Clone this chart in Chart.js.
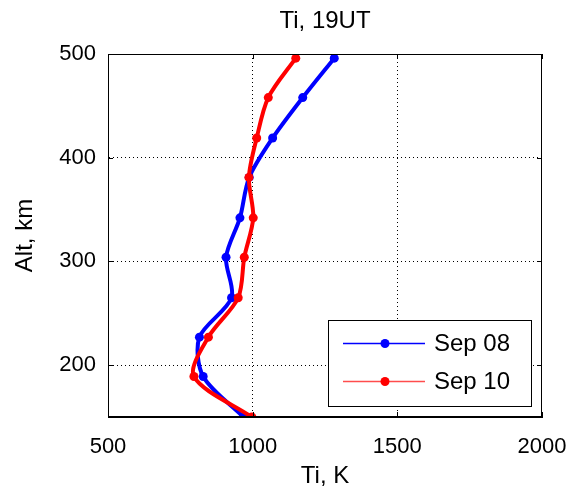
<!DOCTYPE html>
<html>
<head>
<meta charset="utf-8">
<script src="https://cdn.jsdelivr.net/npm/chart.js@4"></script>
<style>
    html, body { margin: 0; padding: 0; background: #fff; }
    #wrap { width: 576px; height: 492px; }
</style>
</head>
<body>
<div id="wrap"><canvas id="myChart" width="576" height="492"></canvas></div>
<script>
// altitude levels, km
const altitudes = [150, 189, 227, 265, 304, 342, 381, 419, 458, 496];
// ion temperature, K
const tiSep08 = [968, 829, 816, 927, 908, 956, 988, 1069, 1173, 1282];
const tiSep10 = [997, 797, 847, 950, 971, 1002, 987, 1014, 1054, 1149];
const xTicks = [500, 1000, 1500, 2000];
const yTicks = [200, 300, 400, 500];
const labels = ['Sep 08', 'Sep 10'];

const FONT = '"Liberation Sans", Arial, Helvetica, sans-serif';

function toPoints(temps) {
    return temps.map((t, i) => ({x: t, y: altitudes[i]}));
}

function edgeColor(ctx) {
    const s = ctx.scale;
    if (ctx.tick && (ctx.tick.value === s.min || ctx.tick.value === s.max)) return 'rgba(0,0,0,0)';
    return '#000';
}

// frame, inward tick marks, title and legend box
const framePlugin = {
    id: 'frame',
    afterDraw(chart) {
        const ctx = chart.ctx;
        const a = chart.chartArea;
        const xs = chart.scales.x;
        const ys = chart.scales.y;
        ctx.save();
        ctx.strokeStyle = '#000';
        ctx.lineWidth = 1;
        ctx.strokeRect(a.left + 0.5, a.top + 0.5, a.right - a.left - 1, a.bottom - a.top - 1);
        ctx.beginPath();
        xTicks.forEach(v => {
            const px = Math.round(xs.getPixelForValue(v)) + 0.5;
            ctx.moveTo(px, a.bottom); ctx.lineTo(px, a.bottom - 5);
            ctx.moveTo(px, a.top); ctx.lineTo(px, a.top + 5);
        });
        yTicks.forEach(v => {
            const py = Math.round(ys.getPixelForValue(v)) + 0.5;
            ctx.moveTo(a.left, py); ctx.lineTo(a.left + 5, py);
            ctx.moveTo(a.right, py); ctx.lineTo(a.right - 5, py);
        });
        ctx.stroke();

        // title
        ctx.fillStyle = '#000';
        ctx.font = '24px ' + FONT;
        ctx.textAlign = 'center';
        ctx.textBaseline = 'middle';
        ctx.fillText('Ti, 19UT', (a.left + a.right) / 2, 21);

        // legend
        const bx = 328.5, by = 320.5, bw = 203, bh = 86;
        ctx.fillStyle = '#fff';
        ctx.fillRect(bx, by, bw, bh);
        ctx.strokeRect(bx, by, bw, bh);
        const rows = [
            {label: labels[0], color: '#0000ff', line: '#0000ff', y: 343.5},
            {label: labels[1], color: '#ff0000', line: '#ff4d4d', y: 381.5}
        ];
        rows.forEach(r => {
            ctx.strokeStyle = r.line;
            ctx.lineWidth = 1.5;
            ctx.beginPath();
            ctx.moveTo(343, r.y); ctx.lineTo(425, r.y);
            ctx.stroke();
            ctx.fillStyle = r.color;
            ctx.beginPath();
            ctx.arc(385, r.y, 4.5, 0, Math.PI * 2);
            ctx.fill();
            ctx.fillStyle = '#000';
            ctx.textAlign = 'left';
            ctx.font = '24px ' + FONT;
            ctx.fillText(r.label, 434, r.y + 1);
        });
        ctx.restore();
    }
};

const data = {
    datasets: [{
        label: labels[0],
        data: toPoints(tiSep08),
        borderColor: '#0000ff',
        backgroundColor: '#0000ff',
        borderWidth: 4,
        pointRadius: 4.5,
        pointBorderWidth: 0,
        showLine: true,
        tension: 0.3,
        order: 1
    }, {
        label: labels[1],
        data: toPoints(tiSep10),
        borderColor: '#ff0000',
        backgroundColor: '#ff0000',
        borderWidth: 4,
        pointRadius: 4.5,
        pointBorderWidth: 0,
        showLine: true,
        tension: 0.3,
        order: 0
    }]
};

const config = {
    type: 'scatter',
    data,
    options: {
        responsive: false,
        animation: false,
        layout: {padding: {top: 54, right: 34, left: 0, bottom: 0}},
        plugins: {
            legend: {display: false},
            tooltip: {enabled: false}
        },
        scales: {
            x: {
                type: 'linear',
                min: 500,
                max: 2000,
                afterBuildTicks: s => { s.ticks = xTicks.map(v => ({value: v})); },
                afterFit: s => { s.height = 75; s.paddingLeft = 0; s.paddingRight = 0; },
                ticks: {color: '#000', padding: 17, font: {family: FONT, size: 22}, callback: v => String(v)},
                grid: {color: edgeColor, drawTicks: false, lineWidth: 1},
                border: {display: true, color: '#000', width: 1, dash: [1, 3]},
                title: {display: true, text: 'Ti, K', color: '#000', font: {family: FONT, size: 24}, padding: {top: 0, bottom: 1}}
            },
            y: {
                type: 'linear',
                min: 150,
                max: 500,
                afterBuildTicks: s => { s.ticks = yTicks.map(v => ({value: v})); },
                afterFit: s => { s.width = 108; s.paddingTop = 0; s.paddingBottom = 0; },
                ticks: {color: '#000', padding: 12, font: {family: FONT, size: 22}, callback: v => String(v)},
                grid: {color: edgeColor, drawTicks: false, lineWidth: 1},
                border: {display: true, color: '#000', width: 1, dash: [1, 3]},
                title: {display: true, text: 'Alt, km', color: '#000', font: {family: FONT, size: 24}, padding: {top: 11, bottom: 0}}
            }
        }
    },
    plugins: [framePlugin]
};

myChart = new Chart(document.getElementById('myChart'), config);
</script>
</body>
</html>
